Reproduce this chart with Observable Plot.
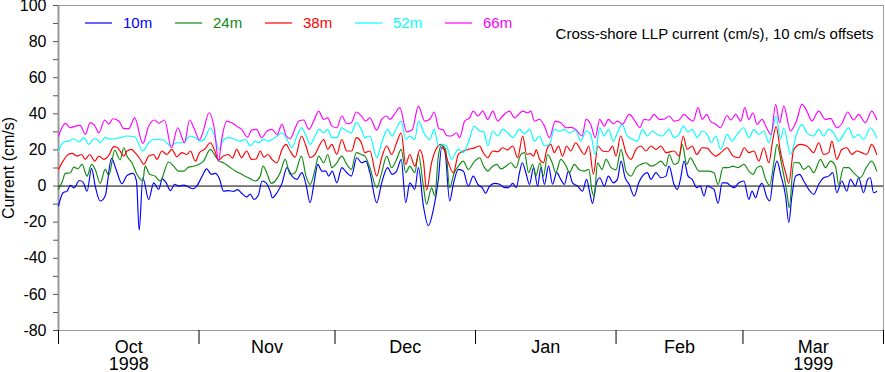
<!DOCTYPE html>
<html><head><meta charset="utf-8">
<script src="https://cdn.jsdelivr.net/npm/d3@7"></script>
<script src="https://cdn.jsdelivr.net/npm/@observablehq/plot@0.6"></script>
<style>body{margin:0;background:#fff}</style>
</head><body><div id="chart"></div>
<script>
// Values as drawn on the chart (cm/s), each deeper series already shifted by its 10 cm/s offset.
// Each point: [days since 1998-10-01, value]
const seriesNames = ["10m", "24m", "38m", "52m", "66m"];
const seriesColors = ["#0000ff", "#138a13", "#ff0000", "#00ffff", "#ff00ff"];

const s10m = [[0,-11],[1.0,-3.7],[1.9,-2.8],[2.6,0.4],[3.4,-1],[4.6,3.1],[5.4,2.2],[6.3,-2.8],[7.3,9.8],[8.1,0],[9.2,-8.3],[10.3,-5.5],[11.7,15.3],[12.7,9.2],[14.0,1.3],[15.1,5.9],[16.4,7],[17.2,2.8],[17.8,-24.4],[18.6,4.6],[19.9,-7.5],[21.0,1.8],[22.1,-1.8],[22.9,4],[23.7,2],[24.7,-2.5],[25.6,1],[26.6,0],[27.6,0.5],[28.7,-0.5],[29.6,-1.5],[30.5,0],[31.6,5],[32.7,9.5],[33.7,6.5],[34.6,7],[35.5,4],[36.4,-2.8],[37.5,-2.5],[38.6,-3],[39.5,-2],[40.4,-4],[41.5,-6],[42.3,-4.5],[43.1,-7.4],[44.1,-5],
[44.9,2.8],[45.8,1.8],[46.7,-2.8],[47.2,-6.5],[48.2,-3.7],[49.3,1.5],[50.4,10.2],[51.5,5.5],[52.6,3.7],[53.7,7.4],[54.6,0.9],[55.5,-9.2],[56.5,3.7],[57.2,12],[58.1,8.3],[59.0,8.3],[59.6,5.5],[60.4,8.3],[61.4,1.8],[62.5,10.2],[63.6,7.4],[64.6,5.5],[65.8,15.7],[66.9,12.9],[67.8,13.8],[68.7,7.4],[70.2,-9.2],[71.3,1.8],[72.6,10.2],[73.6,6.5],[74.6,8.3],[75.6,14.8],[76.6,-9.2],[77.5,1.8],[78.6,-1.8],[79.4,10.2],[80.5,-11],[81.6,-22],[82.7,-13],[83.8,3.7],[84.5,21.2],[85.2,20],[86.3,-8.3],[87.1,1],[88.2,9.2],[89.3,8.3],[90.4,0],
[91.5,5.5],[92.5,0.9],[93.5,-1],[94.2,-4],[95.1,0],[96.2,1.5],[97.3,1],[98.4,-0.9],[99.3,-0.9],[100.2,1.5],[101.0,-0.9],[101.7,7.4],[102.3,12.9],[103.1,7.4],[103.9,0.9],[104.8,10.2],[105.7,0],[106.4,10.2],[107.2,0.9],[108.1,11],[109.0,1],[109.9,7.4],[110.8,3.7],[111.6,0.9],[112.5,8.3],[113.4,1.8],[114.5,0],[115.6,-2.8],[116.5,3.7],[117.2,-3.7],[117.8,-9.6],[118.6,0.9],[119.4,4.6],[120.4,0],[121.3,5.5],[122.4,1.8],[123.3,3.7],[124.1,13.8],[125.0,4.6],[125.9,0.9],[127.0,-5.5],[128.0,1.8],[128.8,5.5],[129.9,7.4],[130.7,3.7],[131.8,7.4],[132.9,4.6],[134.0,5.5],[134.7,11],
[135.8,0.9],[136.5,-1.8],[137.2,3.7],[138.0,13.8],[138.9,5.5],[139.8,3.7],[140.8,-0.9],[141.6,0],[142.4,-5.5],[143.1,0],[144.0,-0.9],[144.6,-1.8],[145.5,-9.6],[146.4,1.8],[147.4,1.8],[148.3,0],[149.0,-0.9],[150.1,1.8],[151.2,2.8],[152.3,-7.4],[153.0,-2.8],[153.8,-6.5],[154.5,-0.9],[155.2,1.5],[156.3,-6.5],[156.9,-8.3],[157.8,7.4],[158.5,13.8],[159.4,5.5],[160.4,-5.5],[161.1,-20.3],[161.8,-5.5],[162.6,5.5],[163.5,6.5],[164.4,2.8],[165.5,-1.8],[166.6,-4.6],[167.7,0.9],[168.8,4.6],[169.9,5.5],[170.8,7.4],[171.7,-3.7],[172.8,2.8],[173.9,-2.8],[174.7,3.7],[175.8,0],[176.5,4.6],[177.6,-3.7],[178.5,3.7],[179.1,4.6],[179.8,-3.7],[180.5,-3]];

const s24m = [[0,-1.8],[0.8,2.2],[1.5,7],[2.6,7.4],[3.4,10.5],[4.3,9.6],[5.2,12],[6.3,5.5],[7.3,12],[8.1,9.2],[9.2,1.5],[10.3,9.2],[11.1,5.9],[12.4,19.8],[13.6,14.5],[14.4,21.2],[15.1,16.6],[16.2,12.9],[17.3,6.5],[18.6,2.8],[19.1,11],[20.1,6.5],[21.3,5.5],[22.4,2.8],[24.3,13.3],[25.4,11],[26.5,8.3],[27.6,8.3],[28.7,10.5],[29.8,11],[30.9,12],[32.0,13.8],[33.5,20.3],[34.6,16.6],[35.4,13.8],[36.4,12.9],[37.5,11],[39.0,8.3],[40.4,6.5],[41.9,4.6],[43.4,2.8],[44.5,5.5],[45.1,11],[46.0,7],[46.9,1.5],
[47.8,2.8],[48.9,7.4],[50.0,14.8],[51.1,6.5],[52.2,7.4],[53.6,16.6],[54.6,5.5],[55.5,0.9],[56.6,9.2],[57.4,16.6],[58.5,12.9],[59.4,17.5],[60.3,10.2],[61.4,12.9],[62.5,16.6],[63.6,12],[64.6,9.2],[65.7,18.5],[66.8,17.5],[67.6,16.6],[68.7,10.2],[70.2,-0.9],[71.3,7.4],[72.4,16.6],[73.5,10.2],[74.6,14.8],[75.6,20.3],[76.6,7.4],[77.5,11],[78.6,7.4],[79.4,17.5],[80.5,0],[81.2,-10.2],[82.3,-1],[83.0,-5.5],[83.8,16.6],[84.5,22.5],[85.4,20.3],[86.3,-0.9],[87.3,7.4],[88.2,11],[89.3,13.8],[90.4,9.2],
[91.8,13.8],[92.9,15.7],[93.8,11],[94.7,8.3],[95.8,11],[96.7,12],[97.6,9.5],[98.7,11],[99.8,12.9],[100.9,10],[102.0,17.5],[102.8,18.5],[103.7,7.4],[104.6,12],[105.3,5.5],[106.2,12.9],[107.0,5.5],[107.9,17.5],[108.9,12.9],[109.7,7.4],[110.8,14.8],[112.0,11],[112.7,7.4],[113.8,12],[114.9,9],[116.0,8.3],[117.0,9.2],[117.7,-2.8],[118.2,-5.5],[118.9,12.9],[119.9,9.2],[120.8,14.8],[121.9,10.2],[123.0,9],[124.1,20.3],[125.2,8.3],[126.3,5.5],[127.4,10.2],[128.5,12],[129.6,12.9],[130.7,11],[131.8,12],[132.9,13.8],[134.0,11],[134.7,17.5],
[135.8,12],[136.7,12.9],[137.6,23.1],[138.6,12],[139.4,15.7],[140.3,12],[141.3,8.3],[142.4,8.3],[143.5,8.3],[144.6,7.4],[145.5,0.9],[146.6,10.2],[147.7,10.2],[148.8,11],[149.9,10.2],[151.2,12],[152.3,8.3],[153.2,6.5],[154.1,10.2],[155.0,11],[156.0,3.7],[156.9,0.4],[157.8,12.9],[158.5,23.1],[159.6,11],[160.7,-3.7],[161.2,-12],[162.2,12.9],[163.3,13],[164.4,9.2],[165.5,11],[166.6,7.4],[168.1,14.8],[169.2,10.2],[170.3,13.8],[171.4,11],[172.1,0.9],[173.2,10.2],[174.3,10.2],[175.4,7.4],[176.9,4.6],[178.2,10.2],[179.4,13.8],[180.5,8.3]];

const s38m = [[0,9.2],[1.0,13.8],[1.9,17],[3.0,18.1],[4.1,16.6],[5.1,17.5],[5.9,14.8],[6.9,17.5],[8.0,13.8],[8.9,16.6],[10.0,14.8],[11.1,17],[12.2,21.8],[12.9,21.5],[13.6,19.4],[14.4,16.6],[15.1,19.4],[16.1,20.3],[16.9,18.5],[18.0,15],[18.8,12],[19.9,16.6],[21.0,17.5],[21.7,14.8],[22.8,19.4],[23.9,17.5],[25.0,20.3],[26.1,16.2],[27.2,18.5],[28.3,17.5],[29.1,19.4],[30.2,13.8],[31.1,18.5],[32.2,20.3],[33.5,24],[34.4,20],[35.3,14.4],[36.4,16.6],[37.5,17.5],[38.4,15.5],[39.3,20.3],[40.4,15.7],[41.5,19.4],[42.6,14.8],[43.6,15],[44.5,19.4],[45.3,16],[46.2,17.5],
[47.1,14.8],[48.2,12.9],[49.3,20.3],[50.2,23.1],[51.1,19.4],[52.2,16],[53.6,27.7],[54.6,22.2],[55.5,15.7],[56.6,17.5],[57.5,22.2],[58.5,25.8],[59.4,20.3],[60.3,23.1],[61.4,17.5],[62.5,25.8],[63.6,19.4],[64.7,19.4],[65.7,26.8],[66.8,24],[67.6,18.5],[68.7,19.4],[70.2,5.5],[71.3,15.7],[72.4,22.2],[73.5,17.5],[74.6,24],[75.6,29.5],[76.6,12],[77.5,17.5],[78.6,11],[79.7,20],[80.5,14],[81.2,-2.2],[82.3,12.9],[83.2,20],[84.4,23.1],[85.1,20],[86.0,12.9],[87.1,7.4],[88.2,17.5],[89.3,19.4],[90.4,20.3],
[91.6,21],[92.9,22.2],[93.6,19],[94.7,15.7],[95.8,19.4],[96.9,19],[98.0,21.2],[99.1,20],[100.2,22.2],[101.3,15.7],[102.4,27.7],[103.3,17.5],[104.1,18],[104.8,16.6],[105.4,20],[106.1,15],[107.0,12.9],[107.7,20],[108.6,23.1],[109.4,18.5],[110.3,22.2],[111.2,16.6],[112.1,22.2],[113.0,19.4],[114.1,24],[115.2,20],[116.0,17.5],[117.0,22.2],[118.0,6.5],[119.0,22.2],[120.0,19.4],[121.3,19],[122.2,22.2],[123.0,16.6],[124.0,27.7],[125.2,18.5],[126.3,14.8],[127.4,20.3],[128.5,22.2],[129.6,19.4],[130.7,22.2],[131.8,20.3],[132.9,22.2],[134.0,18.5],
[135.8,19.4],[136.9,16.6],[137.8,27.7],[138.7,20.3],[139.8,22.2],[140.8,17.5],[142.0,21.2],[143.1,21],[144.0,18.5],[145.0,16.6],[146.1,18.5],[147.5,21.2],[148.8,16.6],[150.1,15.7],[151.3,21.2],[152.3,18.5],[153.4,19.4],[154.5,13.8],[155.6,21.2],[156.7,12.9],[157.6,25.8],[158.3,32.9],[159.3,18.5],[160.4,7.4],[161.1,1.5],[162.2,20.3],[163.7,23.1],[165.1,22.2],[166.6,18.5],[167.7,24],[168.8,17.5],[169.9,18.5],[170.6,24.9],[171.7,14.8],[172.8,20.3],[173.9,21.2],[175.0,17.5],[176.1,19.4],[177.2,18.5],[178.3,17.5],[179.4,23.1],[180.5,17.5]];

const s52m = [[0,19.4],[1.2,24.4],[2.3,24.9],[3.4,26.2],[4.5,24.4],[5.6,26.8],[6.7,23.1],[7.8,26.2],[8.5,25.8],[9.2,24],[10.3,26.8],[11.4,26],[12.5,26.2],[13.6,26.8],[15.1,27.7],[16.8,27.3],[18.6,19.4],[19.9,24],[21.0,25.8],[22.1,25.8],[23.2,25.5],[24.7,22.2],[26.1,24],[27.6,24],[28.9,27.7],[30.2,26.8],[31.3,24.9],[32.2,26.2],[33.5,32.3],[34.4,28],[35.4,20.3],[36.4,25.8],[37.5,26.8],[39.0,25.8],[40.1,24.9],[41.2,25.8],[42.3,22.2],[43.4,24.9],[44.2,24],[45.2,26],[46.1,24.9],
[47.1,25.8],[48.2,27.7],[49.3,29.5],[50.4,25.8],[51.5,21.2],[52.6,27.7],[53.6,32.3],[54.6,27.7],[55.5,23.1],[56.6,27.7],[57.5,31.4],[58.5,29.5],[59.4,31.4],[60.3,26.8],[61.4,26.8],[62.5,32.3],[63.6,30.5],[64.6,29.5],[65.7,35.1],[66.8,31.4],[67.6,26.8],[68.7,27.7],[70.2,15.7],[71.3,24],[72.6,31.4],[73.6,27.7],[74.6,32.3],[75.6,36],[76.6,25.8],[77.5,27.7],[78.6,25.8],[79.4,36],[80.8,28.6],[81.9,25.8],[82.9,31.4],[83.8,22.2],[84.9,23.1],[85.6,22.2],[86.7,14.8],[88.2,20.3],[89.3,18.5],[90.4,24],
[91.7,33.2],[92.9,30.5],[93.8,30],[94.7,22.2],[95.8,30.5],[96.9,27.7],[98.0,31.4],[99.1,29.5],[100.2,26.8],[101.7,31.4],[102.8,29],[103.9,31.4],[105.0,24.9],[106.1,27.7],[107.2,22.2],[108.3,23.1],[109.4,31.4],[110.5,30.5],[111.6,31.4],[112.7,29.5],[114.1,31],[115.2,24.9],[116.4,30.5],[117.4,28.6],[118.4,17.5],[119.4,32.3],[120.4,27.7],[121.3,31.4],[122.4,24.9],[123.3,29.5],[124.3,34.2],[125.5,27.7],[126.6,26],[127.7,24.9],[128.8,31.4],[129.9,27.7],[131.0,30.5],[132.1,28.6],[133.2,27.7],[134.7,31.4],
[135.8,26.8],[136.9,28.6],[137.8,33.2],[138.9,29.9],[139.8,31.4],[140.9,26.8],[142.0,30.5],[143.1,28.6],[144.0,24],[145.0,27.7],[146.1,20.3],[147.5,28.6],[148.6,24.9],[149.7,28.6],[151.2,32.3],[152.3,26.8],[153.4,31.4],[154.5,28.6],[155.6,30.5],[156.7,24],[157.6,32.3],[158.3,38.8],[159.3,26],[160.0,32],[161.5,17.5],[162.9,29.5],[164.0,34.2],[165.1,29.5],[166.6,27.7],[167.7,31.4],[168.8,27.7],[169.9,31.4],[171.0,29.5],[172.1,24.9],[173.2,28.6],[174.3,32.3],[175.4,26.8],[176.5,28.6],[177.6,25.8],[179.1,32.3],[180.5,26.8]];

const s66m = [[0,27.7],[1.5,34.7],[2.6,32.3],[3.7,33.2],[4.8,33.6],[5.9,28.6],[7.0,35.1],[8.0,33.5],[8.9,29.5],[10.2,36.6],[11.1,34.3],[12.0,37.3],[13.3,36],[14.4,31.8],[15.5,31.8],[16.8,37.8],[18.6,23.6],[19.9,33.2],[21.2,36.6],[22.1,34.8],[23.4,36.6],[24.9,21.2],[26.3,32.3],[27.8,24],[28.9,36.6],[30.0,31.4],[31.1,25.5],[32.0,31],[33.2,40.6],[34.4,31.4],[35.3,13.8],[36.0,25.8],[37.1,36],[38.2,35.1],[39.3,33.2],[40.4,31.4],[41.7,27.1],[42.6,31],[43.7,31.4],[44.8,26.8],
[46.0,30.5],[47.1,31.4],[48.2,28.5],[49.3,34.2],[50.2,28],[51.1,26.2],[52.2,32],[53.0,36],[54.1,36.6],[55.2,31.4],[56.3,36],[57.4,41.5],[58.5,36.9],[59.4,37.8],[60.3,33.2],[61.4,32.3],[62.5,38.8],[63.6,34.5],[64.6,35.1],[65.7,41],[66.8,38.8],[67.8,36],[68.7,37.8],[70.2,31],[71.3,36.9],[72.4,38.8],[73.1,36.9],[74.1,39.7],[75.3,43.4],[76.8,30],[78.0,31],[79.4,44.3],[80.8,36],[81.9,37],[82.9,41],[83.9,31.8],[84.9,31],[85.6,28],[86.7,27.7],[87.8,29.5],[88.5,26.8],[89.6,36],
[90.7,37.8],[91.5,41.5],[92.5,38.8],[93.6,41.5],[94.7,36.9],[95.8,41.5],[96.9,36],[98.0,38.8],[99.5,41.5],[100.6,37.8],[102.4,41.5],[103.5,40.6],[104.2,41.5],[105.0,36],[106.1,37],[107.2,33.2],[108.3,26.8],[109.6,36],[110.8,35.1],[112.0,32.3],[113.0,32.5],[114.1,31.4],[115.5,27.7],[116.4,36.9],[117.4,34.2],[118.4,26.8],[119.4,36.9],[120.4,33.2],[121.3,36.9],[122.4,34.5],[123.3,36],[124.4,34.2],[125.9,39.7],[127.4,35.1],[128.2,32.3],[129.2,36.9],[130.3,36.5],[131.4,39.7],[132.5,36.9],[133.6,37],[134.7,38.8],
[135.8,36],[136.9,36.6],[138.0,39.7],[139.1,37.3],[140.0,36],[141.1,43.4],[142.0,36.9],[143.0,39.7],[143.8,36],[145.0,34.2],[146.0,32.3],[147.5,39.1],[148.3,36.6],[149.4,39.7],[150.5,36],[151.4,43.4],[152.3,36.9],[153.2,40.6],[154.1,34.2],[155.2,36.9],[156.2,32.3],[157.2,28.6],[158.2,45.2],[159.1,35.1],[160.0,44.3],[161.5,30.5],[162.8,36],[164.0,45.2],[165.1,41.5],[166.2,36],[167.7,41.5],[169.2,36.9],[170.3,37.5],[171.7,32.3],[172.8,34.5],[174.1,41],[175.4,36.6],[176.5,39.7],[178.0,35.1],[179.4,41.5],[180.5,36.9]];

const yTicks = [-80, -60, -40, -20, 0, 20, 40, 60, 80, 100];
const yMinorTicks = [-70, -50, -30, -10, 10, 30, 50, 70, 90];
const monthStarts = ["1998-10-01", "1998-11-01", "1998-12-01", "1999-01-01", "1999-02-01", "1999-03-01", "1999-04-01"];
const monthLabels = ["Oct\n1998", "Nov", "Dec", "Jan", "Feb", "Mar\n1999"];
const chartNote = "Cross-shore LLP current (cm/s), 10 cm/s offsets";
const yLabel = "Current (cm/s)";

const t0 = Date.UTC(1998, 9, 1);
const toDate = d => new Date(t0 + d * 864e5);
const allSeries = [s10m, s24m, s38m, s52m, s66m];
const rows = allSeries.flatMap((s, k) => s.map(([d, v]) => ({date: toDate(d), value: v, name: seriesNames[k]})));
const starts = monthStarts.map(s => new Date(s + "T00:00:00Z"));
const mids = starts.slice(0, -1).map((s, i) => new Date((+s + +starts[i + 1]) / 2));
const labelByTime = new Map(mids.map((m, i) => [+m, monthLabels[i]]));

const font = "'Liberation Sans', Arial, Helvetica, sans-serif";
const chart = Plot.plot({
  width: 885, height: 372,
  marginLeft: 58, marginRight: 2, marginTop: 5, marginBottom: 42,
  style: {fontFamily: font, background: "#fff", overflow: "visible"},
  x: {type: "utc", domain: [starts[0], starts[starts.length - 1]]},
  y: {domain: [-80, 100]},
  color: {domain: seriesNames, range: seriesColors},
  marks: [
    Plot.frame({stroke: "#9a9a9a"}),
    Plot.ruleX([starts[0]], {stroke: "#999", strokeWidth: 2}),
    Plot.ruleY([0], {stroke: "#000", strokeWidth: 1}),
    Plot.line(rows, {x: "date", y: "value", z: "name", stroke: "name", curve: "monotone-x", strokeWidth: 1.15}),
    Plot.axisY(yTicks, {tickSize: 5, tickPadding: 7, fontSize: 16, stroke: "#555", tickFormat: d => String(d), label: null}),
    Plot.axisY(yMinorTicks, {tickSize: 5, tickFormat: () => "", stroke: "#555", label: null}),
    Plot.axisX(starts, {tickSize: 14, tickFormat: () => "", stroke: "#000", label: null}),
    Plot.axisX(mids, {tickSize: 0, tickPadding: 10, fontSize: 18, lineHeight: 0.97, tickFormat: d => labelByTime.get(+d), label: null}),
    Plot.text([yLabel], {frameAnchor: "left", dx: -50, rotate: -90, textAnchor: "middle", lineAnchor: "middle", fontSize: 16, fill: "#000"}),
    Plot.text([chartNote], {frameAnchor: "top-right", dx: -10, dy: 29, textAnchor: "end", lineAnchor: "middle", fontSize: 15, fill: "#000"})
  ]
});
document.getElementById("chart").appendChild(chart);

// In-plot legend (layout only)
const svg = d3.select(chart.tagName.toLowerCase() === "svg" ? chart : chart.querySelector("svg"));
const lg = svg.append("g").attr("font-family", font).attr("font-size", 15).attr("text-anchor", "start");
seriesNames.forEach((name, i) => {
  const x0 = 85 + i * 90;
  lg.append("line").attr("x1", x0).attr("x2", x0 + 27).attr("y1", 23).attr("y2", 23)
    .attr("stroke", seriesColors[i]).attr("stroke-width", 1.2);
  lg.append("text").attr("x", x0 + 38).attr("y", 23).attr("dy", "0.35em")
    .attr("fill", seriesColors[i]).text(name);
});
</script>
</body></html>
